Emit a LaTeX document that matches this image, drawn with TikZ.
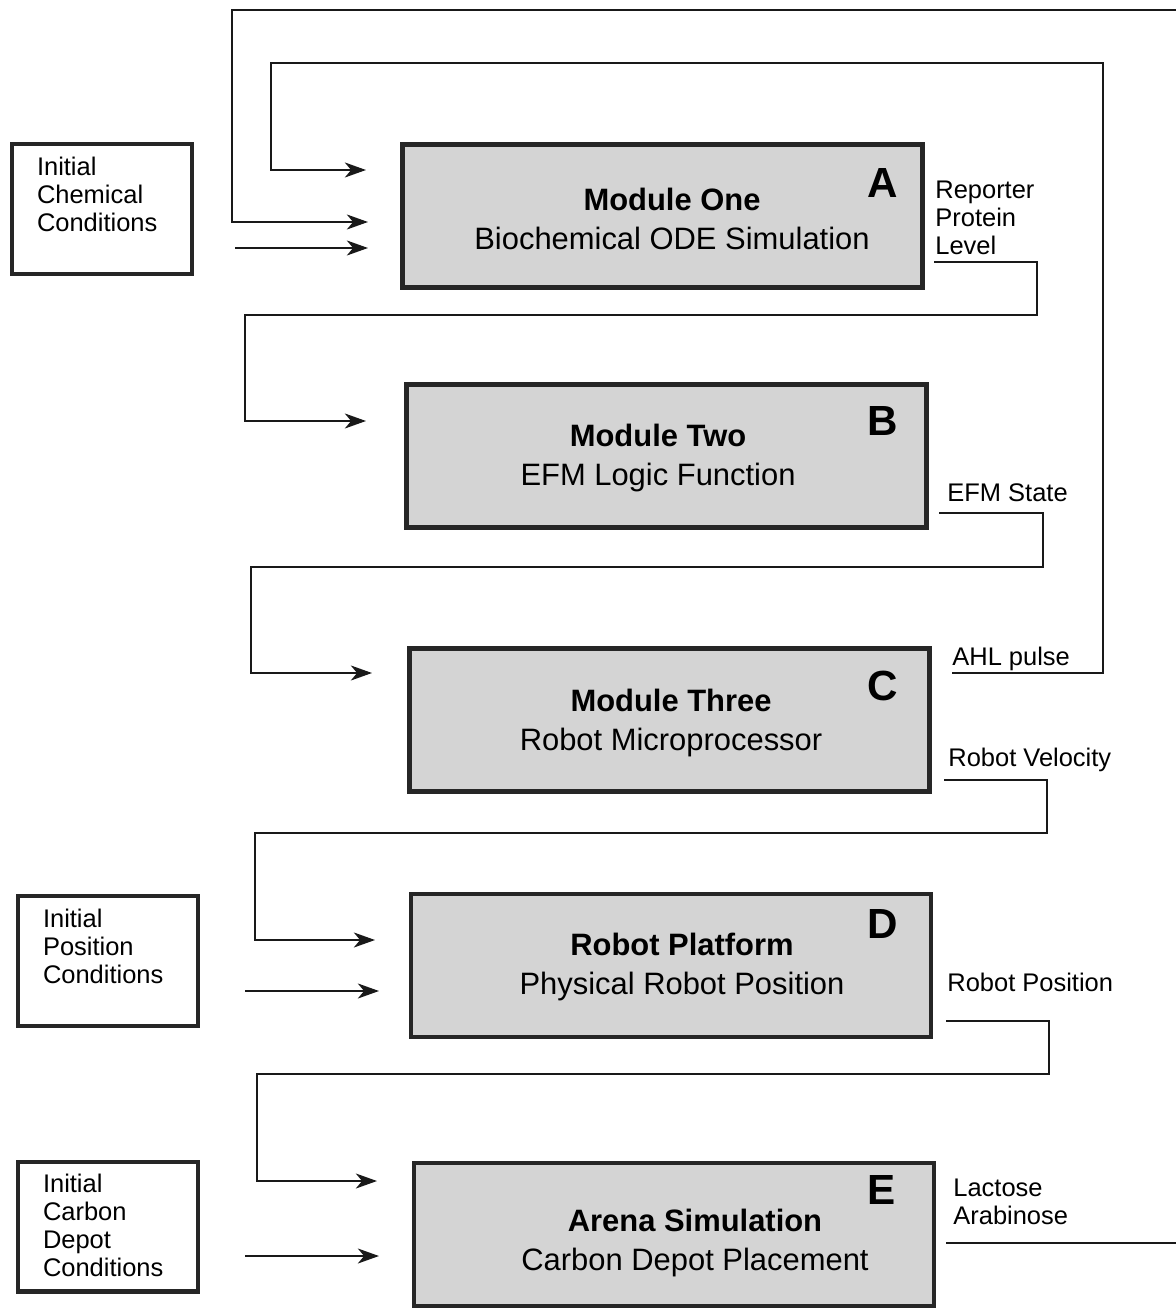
\documentclass[tikz,border=0pt]{standalone}
\usepackage{fontspec}
\setmainfont{Liberation Sans}
\usepackage{tikz}
\usetikzlibrary{arrows.meta}

\begin{document}
\begin{tikzpicture}[x=0.02cm,y=-0.02cm,
        conn/.style={line width=1.3pt, draw=black!90},
        >={Stealth[length=12pt,width=8.5pt,inset=3.5pt]},
        module/.style={draw=black!85, line width=2.6pt, fill=black!17, minimum width=10.4cm, minimum height=2.86cm},
        modtext/.style={align=center, inner sep=0pt, font=\fontsize{17.6}{22.5}\selectfont},
        initbox/.style={draw=black!85, line width=2.3pt, inner xsep=0.5cm, inner ysep=0.26cm, font=\fontsize{14.5}{15.9}\selectfont},
        letter/.style={font=\bfseries\fontsize{24}{24}\selectfont},
        lbl/.style={anchor=north west, inner sep=0pt, align=left, font=\fontsize{14.5}{15.9}\selectfont}]
                \useasboundingbox (0,0) rectangle (1175,1310);

                \node[initbox] (chem) at (102,209) {\parbox[c][2.08cm][t]{2.6cm}{Initial\\Chemical\\Conditions}};
                \node[initbox] (pos) at (108,961) {\parbox[c][2.08cm][t]{2.6cm}{Initial\\Position\\Conditions}};
                \node[initbox] (carb) at (108,1226.5) {\parbox[c][2.08cm][t]{2.6cm}{Initial\\Carbon\\Depot\\Conditions}};

                \node[module] (modA) at (662.5,216) {};
                \node[module] (modB) at (666.5,456) {};
                \node[module] (modC) at (669.5,720) {};
                \node[module] (modD) at (671,965.5) {};
                \node[module] (modE) at (674,1234.5) {};

                \node[modtext] (txtA) at (672,219) {{\bfseries Module One}\\Biochemical ODE Simulation};
                \node[modtext] (txtB) at (658,458) {{\bfseries Module Two}\\EFM Logic Function};
                \node[modtext] (txtC) at (671,723) {{\bfseries Module Three}\\Robot Microprocessor};
                \node[modtext] (txtD) at (682,967) {{\bfseries Robot Platform}\\Physical Robot Position};
                \node[modtext] (txtE) at (695,1243) {{\bfseries Arena Simulation}\\Carbon Depot Placement};

                \node[letter] (letA) at (883,183) {A};
                \node[letter] (letB) at (883,421) {B};
                \node[letter] (letC) at (883,686) {C};
                \node[letter] (letD) at (883,924) {D};
                \node[letter] (letE) at (882,1190) {E};

                \node[lbl] (reporter) at (935,181) {Reporter\\Protein\\Level};
                \node[lbl] (efm) at (947,483) {EFM State};
                \node[lbl] (ahl) at (952,647) {AHL pulse};
                \node[lbl] (velo) at (948,748) {Robot Velocity};
                \node[lbl] (posn) at (947,973) {Robot Position};
                \node[lbl] (sugar) at (953,1179) {Lactose\\Arabinose};

                \coordinate (lacout) at (946,1243);
                \coordinate (ain1) at (368,222);
                \coordinate (ahlout) at (952,673);
                \coordinate (ain2) at (366,170);
                \coordinate (chemout) at (235,248);
                \coordinate (ain3) at (368,248);
                \coordinate (aout) at (934,262);
                \coordinate (bin) at (366,421);
                \coordinate (bout) at (939,513);
                \coordinate (cin) at (372,673);
                \coordinate (cout) at (944,780);
                \coordinate (din1) at (375,940);
                \coordinate (posout) at (245,991);
                \coordinate (din2) at (379,991);
                \coordinate (dout) at (946,1021);
                \coordinate (ein1) at (377,1181);
                \coordinate (carbout) at (245,1256);
                \coordinate (ein2) at (379,1256);

                \draw[conn,->] (lacout) -| (1190,10) -| (232,222) -- (ain1);
                \draw[conn,->] (ahlout) -| (1103,63) -| (271,170) -- (ain2);
                \draw[conn,->] (chemout) -- (ain3);
                \draw[conn,->] (aout) -| (1037,315) -| (245,421) -- (bin);
                \draw[conn,->] (bout) -| (1043,567) -| (251,673) -- (cin);
                \draw[conn,->] (cout) -| (1047,833) -| (255,940) -- (din1);
                \draw[conn,->] (posout) -- (din2);
                \draw[conn,->] (dout) -| (1049,1074) -| (257,1181) -- (ein1);
                \draw[conn,->] (carbout) -- (ein2);
\end{tikzpicture}
\end{document}
